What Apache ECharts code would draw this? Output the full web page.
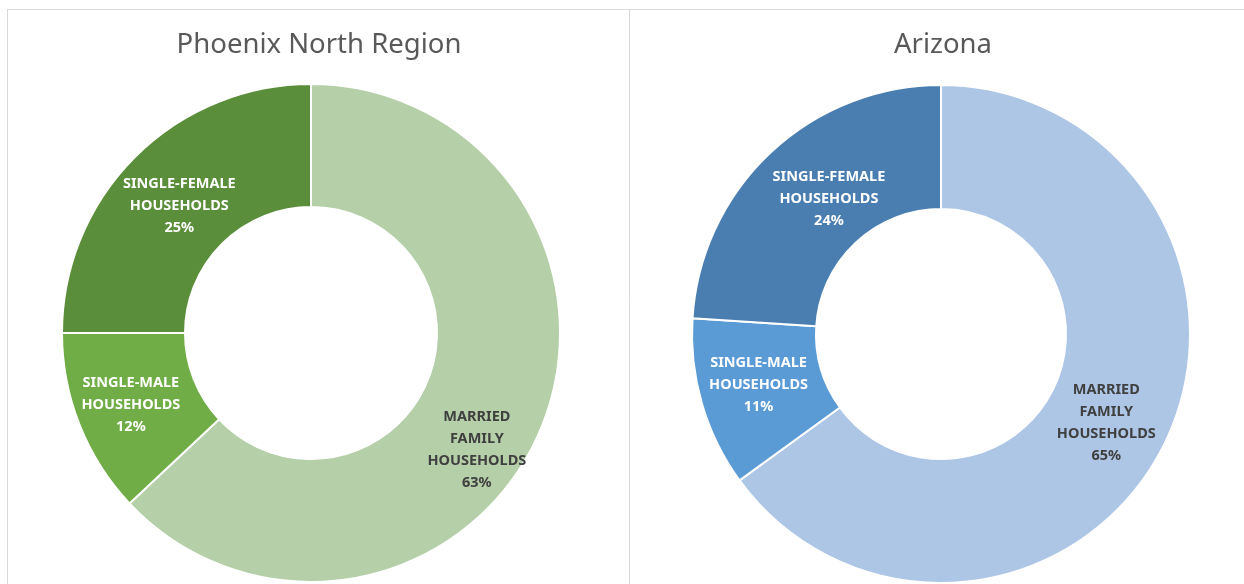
<!DOCTYPE html>
<html lang="en">
<head>
    <meta charset="UTF-8">
    <title>Household types</title>
    <script src="https://cdn.jsdelivr.net/npm/echarts@6/dist/echarts.min.js"></script>
    <style>
        body { margin: 0; padding: 0; background: #fff; overflow: hidden; }
        #chart { width: 1244px; height: 584px; }
    </style>
</head>
<body>
    <div id="chart"></div>
    <script>
        var categories = ['MARRIED\nFAMILY\nHOUSEHOLDS', 'SINGLE-MALE\nHOUSEHOLDS', 'SINGLE-FEMALE\nHOUSEHOLDS']
        var phoenixValues = [63, 12, 25]
        var arizonaValues = [65, 11, 24]
        var titles = ['Phoenix North Region', 'Arizona']

        var greens = ['#b5cfa8', '#70ad47', '#5b8e3a']
        var blues = ['#aec6e6', '#5b9bd5', '#4a7eb0']
        var labelColors = ['#404040', '#ffffff', '#ffffff']

        function makeData(values, colors) {
            var list = []
            for (var i = 0; i < values.length; i++) {
                list.push({
                    name: categories[i],
                    value: values[i],
                    itemStyle: { color: colors[i] },
                    label: { color: labelColors[i] }
                })
            }
            return list
        }

        // small nudges so labels sit where the original chart put them
        var nudges = {
            '0-0': { dx: -9, dy: 41 },
            '0-1': { dx: -3, dy: 2 },
            '0-2': { dx: 3, dy: 8 },
            '1-0': { dx: -4, dy: 3 },
            '1-1': { dx: 0, dy: -2 },
            '1-2': { dx: 18, dy: 3 }
        }

        function pieSeries(values, colors, center, radius, idx) {
            return {
                type: 'pie',
                center: center,
                radius: radius,
                startAngle: 90,
                clockwise: true,
                silent: true,
                itemStyle: { borderColor: '#ffffff', borderWidth: 2 },
                label: {
                    show: true,
                    position: 'inside',
                    formatter: '{b}\n{c}%',
                    fontFamily: 'Noto Sans',
                    fontWeight: 'bold',
                    fontSize: 14.5,
                    lineHeight: 22,
                    align: 'center'
                },
                labelLayout: function (p) {
                    return nudges[idx + '-' + p.dataIndex] || {}
                },
                data: makeData(values, colors)
            }
        }

        var myChart = echarts.init(document.getElementById('chart'))
        var titleStyle = { fontFamily: 'Noto Sans', fontSize: 27.5, fontWeight: 'normal', color: '#595959' }
        var option = {
            animation: false,
            backgroundColor: '#ffffff',
            title: [
                { text: titles[0], left: 319, top: 31, textAlign: 'center', padding: 0, textStyle: titleStyle },
                { text: titles[1], left: 943, top: 31, textAlign: 'center', padding: 0, textStyle: titleStyle }
            ],
            graphic: [
                { type: 'line', shape: { x1: 7, y1: 9.5, x2: 1244, y2: 9.5 }, style: { stroke: '#d9d9d9', lineWidth: 1 } },
                { type: 'line', shape: { x1: 7.5, y1: 9, x2: 7.5, y2: 584 }, style: { stroke: '#d9d9d9', lineWidth: 1 } },
                { type: 'line', shape: { x1: 629.5, y1: 9, x2: 629.5, y2: 584 }, style: { stroke: '#d9d9d9', lineWidth: 1 } }
            ],
            series: [
                pieSeries(phoenixValues, greens, [311, 333], [126, 249], 0),
                pieSeries(arizonaValues, blues, [941, 334], [125, 249], 1)
            ]
        }
        myChart.setOption(option)
    </script>
</body>
</html>
